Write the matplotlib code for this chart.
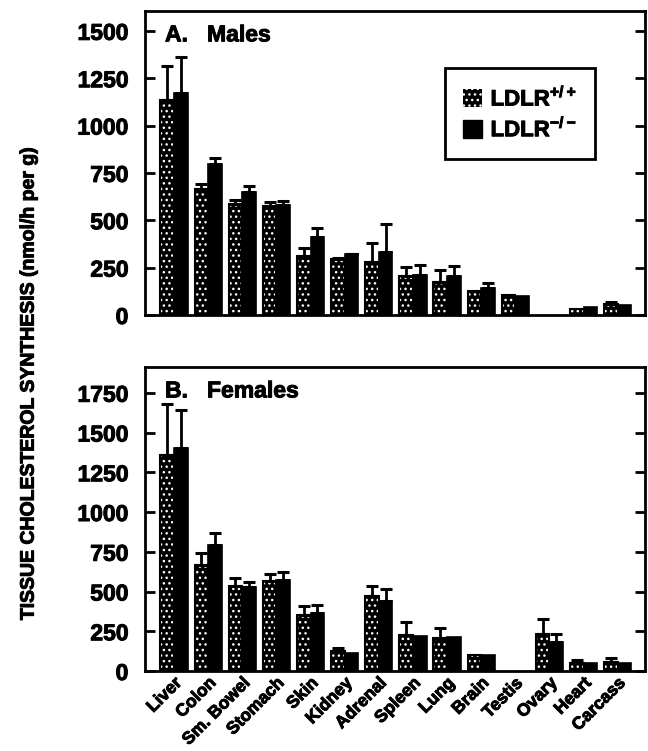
import numpy as np
import matplotlib
matplotlib.use("Agg")
import matplotlib.pyplot as plt
import matplotlib.patheffects as pe
from matplotlib.patches import Patch

plt.rcParams['font.family'] = ['Liberation Sans', 'DejaVu Sans']
plt.rcParams['font.weight'] = 'bold'
plt.rcParams['mathtext.fontset'] = 'custom'
plt.rcParams['mathtext.rm'] = 'Liberation Sans:bold'
plt.rcParams['mathtext.bf'] = 'Liberation Sans:bold'
plt.rcParams['hatch.linewidth'] = 1.0

nan = np.nan
tissues = ['Liver', 'Colon', 'Sm. Bowel', 'Stomach', 'Skin', 'Kidney', 'Adrenal',
           'Spleen', 'Lung', 'Brain', 'Testis', 'Ovary', 'Heart', 'Carcass']

# A. Males
male_wt = [1135, 663, 584, 575, 310, 297, 278, 204, 174, 125, 103, nan, 33, 60]
male_wt_err = [180, 27, 21, 23, 42, 3, 104, 49, 65, 0, 0, nan, 0, 6]
male_ko = [1172, 796, 648, 583, 412, 320, 331, 213, 204, 144, 98, nan, 42, 51]
male_ko_err = [190, 33, 31, 21, 45, 2, 151, 53, 53, 25, 0, nan, 0, 0]

# B. Females
fem_wt = [1361, 669, 536, 564, 353, 126, 469, 227, 206, 99, nan, 235, 53, 59]
fem_wt_err = [317, 74, 49, 46, 53, 17, 67, 84, 67, 0, nan, 91, 18, 21]
fem_ko = [1405, 795, 530, 572, 368, 116, 442, 223, 215, 99, nan, 183, 49, 52]
fem_ko_err = [235, 74, 27, 48, 46, 0, 75, 0, 0, 0, nan, 52, 0, 0]

yticks_m = [0, 250, 500, 750, 1000, 1250, 1500]
yticks_f = [0, 250, 500, 750, 1000, 1250, 1500, 1750]

W = 0.4
HATCH = '...'
heavy = [pe.withStroke(linewidth=0.7, foreground='black')]


def draw_bars(ax, xs, vals, errs, hatched):
    vals = np.array(vals, dtype=float)
    errs = np.array(errs, dtype=float)
    if hatched:
        ax.bar(xs, vals, W, color='black', hatch=HATCH, edgecolor='white', linewidth=0, zorder=2)
        ax.bar(xs, vals, W, fill=False, edgecolor='black', linewidth=1.5, zorder=3)
    else:
        ax.bar(xs, vals, W, color='black', edgecolor='black', linewidth=1.2, zorder=2)
    ok = np.isfinite(errs) & (errs > 0)
    ax.errorbar(xs[ok], vals[ok], yerr=[np.zeros(ok.sum()), errs[ok]], fmt='none',
                ecolor='black', elinewidth=2, capsize=4, capthick=2.2, zorder=4)


def panel(ax, wt, wt_err, ko, ko_err, ymax, yticks, title, show_x):
    x = np.arange(len(tissues))
    draw_bars(ax, x - W / 2, wt, wt_err, True)
    draw_bars(ax, x + W / 2, ko, ko_err, False)
    ax.set_xlim(-0.85, 13.8)
    ax.set_ylim(0, ymax)
    ax.set_yticks(yticks)
    ax.set_yticklabels([str(t) for t in yticks], fontsize=16.5, fontweight='bold',
                       path_effects=heavy)
    ax.tick_params(axis='y', direction='in', length=7, width=2, right=True, pad=12)
    ax.set_xticks(x)
    if show_x:
        ax.set_xticklabels(tissues, rotation=45, ha='right', rotation_mode='anchor',
                           fontsize=12.5, fontweight='bold', path_effects=heavy)
        ax.tick_params(axis='x', length=0, pad=3)
    else:
        ax.set_xticklabels([])
        ax.tick_params(axis='x', length=0)
    for s in ax.spines.values():
        s.set_linewidth(2)
    ax.text(0.04, 0.9, title, transform=ax.transAxes, fontsize=16.5,
            fontweight='bold', va='baseline', path_effects=heavy)


fig = plt.figure(figsize=(6.48, 7.51), dpi=100)
ax1 = fig.add_axes([0.2238, 0.5806, 0.7716, 0.4048])
ax2 = fig.add_axes([0.2238, 0.1065, 0.7716, 0.4048])

panel(ax1, male_wt, male_wt_err, male_ko, male_ko_err, 1605, yticks_m, 'A.   Males', False)
panel(ax2, fem_wt, fem_wt_err, fem_ko, fem_ko_err, 1912, yticks_f, 'B.   Females', True)

handles = [Patch(facecolor='black', hatch=HATCH, edgecolor='white', linewidth=0),
           Patch(facecolor='black', edgecolor='black')]
leg = ax1.legend(handles, [r'LDLR$^{+/+}$', r'LDLR$^{-/-}$'], loc='upper right',
                 bbox_to_anchor=(0.922, 0.85), fancybox=False, edgecolor='black',
                 framealpha=1, prop={'weight': 'bold', 'size': 16},
                 handlelength=0.85, handleheight=0.85, handletextpad=0.4,
                 labelspacing=0.25, borderpad=0.8)
leg.get_frame().set_linewidth(2)
for t in leg.get_texts():
    t.set_path_effects(heavy)

fig.text(0.045, 0.49, 'TISSUE CHOLESTEROL SYNTHESIS (nmol/h per g)', rotation=90,
         fontsize=14, fontweight='bold', ha='center', va='center', path_effects=heavy)

fig.savefig('out.png', dpi=100)
